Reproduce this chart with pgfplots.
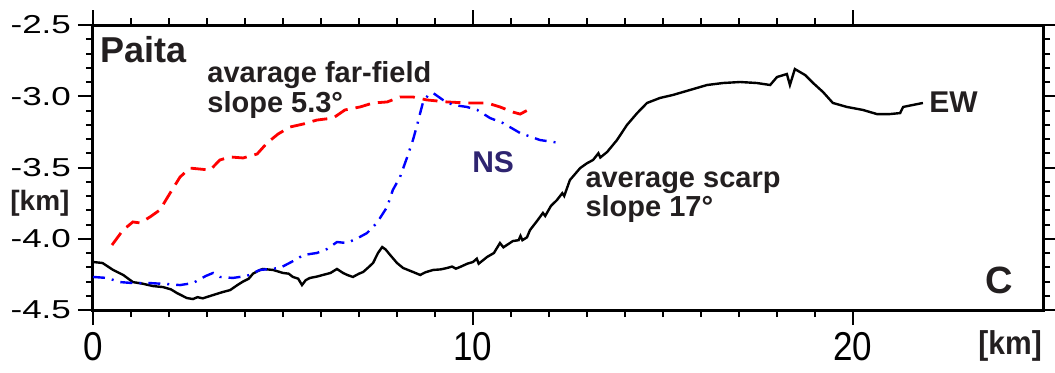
\documentclass[border=0pt]{standalone}
\usepackage{pgfplots}
\pgfplotsset{compat=1.18}
\usepackage{graphicx}
\usepackage{fontspec}
\setmainfont{Liberation Sans}
\definecolor{txt}{HTML}{231F20}
\definecolor{navy}{HTML}{2E2470}
\newcommand{\yl}[1]{\scalebox{1}[0.74]{#1}}
\newcommand{\xl}[1]{\scalebox{1}[1.15]{#1}}
\begin{document}
\begin{tikzpicture}
\begin{axis}[
  scale only axis, width=475pt, height=142.5pt,
  xmin=0, xmax=25, ymin=-4.5, ymax=-2.5,
  xtick={0,10,20}, xticklabels={\xl{0},\xl{10},\xl{20}},
  minor x tick num=9,
  ytick={-4.5,-4,-3.5,-3,-2.5},
  yticklabels={\yl{-4.5},\yl{-4.0},\yl{-3.5},\yl{-3.0},\yl{-2.5}},
  minor y tick num=4,
  tick align=outside,
  major tick length=7.5pt, minor tick length=3.5pt,
  every tick/.style={line width=1pt, black},
  axis line style={line width=1.5pt, black},
  ticklabel style={font=\fontsize{17.5}{17.5}\selectfont, text=black},
  clip=false,
]
\coordinate (o) at (rel axis cs:0,0);
% EW profile
\addplot[line width=1.2pt, black] coordinates {
(0.00,-4.163) (0.25,-4.170) (0.53,-4.219) (0.80,-4.255) (1.05,-4.304) (1.30,-4.315)
(1.58,-4.332) (1.84,-4.339) (2.05,-4.355) (2.21,-4.381) (2.47,-4.416) (2.63,-4.423)
(2.75,-4.410) (2.89,-4.418) (3.16,-4.395) (3.40,-4.375) (3.61,-4.360) (3.80,-4.325)
(3.95,-4.300) (4.10,-4.280) (4.21,-4.245) (4.35,-4.225) (4.47,-4.212) (4.74,-4.219)
(5.00,-4.240) (5.15,-4.245) (5.26,-4.268) (5.40,-4.280) (5.50,-4.325) (5.60,-4.290)
(5.71,-4.275) (5.90,-4.265) (6.05,-4.254) (6.25,-4.240) (6.42,-4.212) (6.58,-4.240)
(6.70,-4.255) (6.84,-4.268) (7.00,-4.245) (7.11,-4.233) (7.25,-4.200) (7.37,-4.170)
(7.50,-4.100) (7.61,-4.058) (7.70,-4.075) (7.82,-4.114) (8.00,-4.170) (8.16,-4.205)
(8.42,-4.233) (8.61,-4.254) (8.75,-4.235) (8.95,-4.219) (9.15,-4.215) (9.32,-4.205)
(9.45,-4.195) (9.55,-4.210) (9.66,-4.198) (9.85,-4.175) (10.00,-4.163) (10.10,-4.140)
(10.15,-4.175) (10.37,-4.128) (10.55,-4.100) (10.71,-4.030) (10.80,-4.060) (11.05,-4.016)
(11.20,-4.010) (11.25,-3.980) (11.30,-4.010) (11.42,-3.990) (11.50,-3.939) (11.70,-3.870)
(11.84,-3.819) (11.90,-3.840) (12.05,-3.770) (12.21,-3.728) (12.35,-3.680) (12.40,-3.700)
(12.55,-3.588) (12.82,-3.504) (13.00,-3.470) (13.16,-3.447) (13.30,-3.400) (13.35,-3.430)
(13.53,-3.391) (13.79,-3.307) (14.05,-3.202) (14.32,-3.118) (14.58,-3.047) (14.92,-3.012)
(15.26,-2.991) (15.71,-2.956) (16.16,-2.921) (16.58,-2.907) (17.03,-2.900) (17.47,-2.907)
(17.82,-2.921) (18.00,-2.865) (18.26,-2.844) (18.34,-2.921) (18.47,-2.809) (18.74,-2.851)
(18.95,-2.907) (19.21,-2.970) (19.47,-3.047) (19.84,-3.075) (20.26,-3.096) (20.63,-3.125)
(20.97,-3.125) (21.24,-3.118) (21.32,-3.075) (21.58,-3.061) (21.84,-3.047)
};
% far-field (red dashed)
\addplot[line width=1.4pt, red, dash pattern=on 7.5pt off 4pt] coordinates {
(0.50,-4.044) (0.79,-3.939) (1.05,-3.882) (1.24,-3.889) (1.50,-3.847) (1.76,-3.798)
(2.03,-3.679) (2.29,-3.567) (2.55,-3.504) (2.82,-3.511) (3.08,-3.518) (3.34,-3.447)
(3.61,-3.426) (3.95,-3.433) (4.32,-3.405) (4.58,-3.328) (4.87,-3.265) (5.18,-3.216)
(5.53,-3.195) (5.89,-3.167) (6.32,-3.153) (6.63,-3.096) (7.03,-3.075) (7.37,-3.047)
(7.74,-3.040) (8.08,-3.005) (8.42,-3.005) (8.79,-3.026) (9.32,-3.040) (9.84,-3.047)
(10.37,-3.047) (10.71,-3.075) (11.05,-3.111) (11.24,-3.125) (11.50,-3.089)
};
% NS profile (blue dash-dot)
\addplot[line width=1.2pt, blue, dash pattern=on 6pt off 3.5pt on 1pt off 3.5pt] coordinates {
(0.00,-4.268) (0.37,-4.275) (0.71,-4.304) (1.05,-4.311) (1.50,-4.311) (1.95,-4.318)
(2.29,-4.325) (2.63,-4.311) (2.97,-4.261) (3.16,-4.240) (3.34,-4.268) (3.68,-4.275)
(4.05,-4.261) (4.39,-4.219) (4.92,-4.205) (5.37,-4.142) (5.53,-4.114) (5.89,-4.100)
(6.16,-4.072) (6.42,-4.023) (6.68,-4.030) (6.97,-3.995) (7.21,-3.960) (7.47,-3.889)
(7.74,-3.777) (7.89,-3.658) (8.08,-3.567) (8.26,-3.433) (8.42,-3.307) (8.53,-3.202)
(8.61,-3.118) (8.68,-3.047) (8.82,-2.991) (8.95,-2.977) (9.21,-3.026) (9.47,-3.061)
(9.84,-3.075) (10.11,-3.096) (10.45,-3.153) (10.79,-3.188) (11.24,-3.258) (11.76,-3.307)
(12.29,-3.328)
};
\node[anchor=base west, inner sep=0pt, font=\fontsize{18}{18}\selectfont\bfseries, text=txt] at (axis cs:0.184,-2.760) {Paita};
\node[anchor=base west, inner sep=0pt, align=left, font=\fontsize{14.5}{12.55}\selectfont\bfseries, text=txt] at (axis cs:3.0,-3.111) {avarage far-field\\slope 5.3°};
\node[anchor=base west, inner sep=0pt, font=\fontsize{15}{15}\selectfont\bfseries, text=navy] at (axis cs:9.97,-3.532) {NS};
\node[anchor=base west, inner sep=0pt, align=left, font=\fontsize{14.5}{13.4}\selectfont\bfseries, text=txt] at (axis cs:12.95,-3.847) {average scarp\\slope 17°};
\node[anchor=base west, inner sep=0pt, font=\fontsize{15}{15}\selectfont\bfseries, text=txt] at (axis cs:22.0,-3.111) {EW};
\node[anchor=base west, inner sep=0pt, font=\fontsize{19}{19}\selectfont\bfseries, text=txt] at (axis cs:23.47,-4.381) {C};
\node[anchor=west, inner sep=0pt, font=\fontsize{14}{14}\selectfont\bfseries, text=txt] at (axis cs:-2.184,-3.749) {[km]};
\node[anchor=base west, inner sep=0pt, font=\fontsize{15}{15}\selectfont\bfseries, text=txt] at (axis cs:23.29,-4.815) {\scalebox{1}[1.1]{[km]}};
\end{axis}
\pgfresetboundingbox
\path[use as bounding box] ([shift={(-46.5pt,-31pt)}]o) rectangle ++(527.5pt,186pt);
\end{tikzpicture}
\end{document}
